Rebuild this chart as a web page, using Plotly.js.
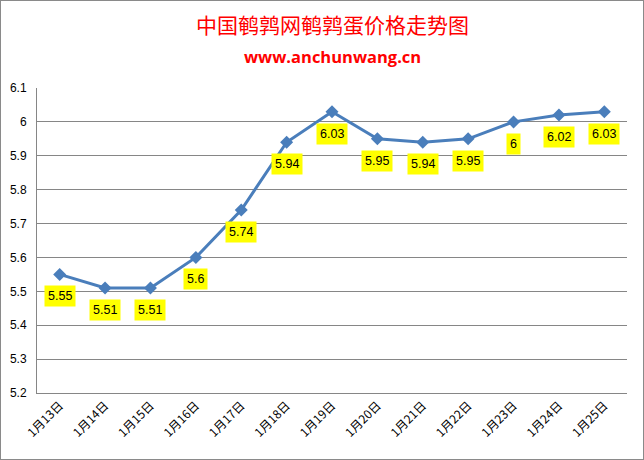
<!DOCTYPE html>
<html>
<head>
<meta charset="utf-8">
<script src="https://cdn.plot.ly/plotly-3.0.1.min.js"></script>
<style>
  body { margin: 0; background: #fff; }
  #chart { width: 642px; height: 458px; border: 1px solid #8a8a8a; }
</style>
</head>
<body>
<div id="chart"></div>
<script>
const dates = ["1月13日", "1月14日", "1月15日", "1月16日", "1月17日", "1月18日", "1月19日",
  "1月20日", "1月21日", "1月22日", "1月23日", "1月24日", "1月25日"];
const prices = [5.55, 5.51, 5.51, 5.6, 5.74, 5.94, 6.03, 5.95, 5.94, 5.95, 6, 6.02, 6.03];
const titleText = "中国鹌鹑网鹌鹑蛋价格走势图";
const siteText = "www.anchunwang.cn";

const blue = "#4a7ebb";

const trace = {
  x: dates,
  y: prices,
  type: "scatter",
  mode: "lines+markers",
  line: { color: blue, width: 3 },
  marker: { symbol: "diamond", size: 10, color: blue },
  showlegend: false,
  hoverinfo: "x+y",
};

// yellow value labels under each point
const labels = dates.map((d, i) => ({
  x: d,
  y: prices[i],
  xref: "x",
  yref: "y",
  text: String(prices[i]),
  showarrow: false,
  yshift: -22,
  bgcolor: "#ffff00",
  borderpad: 3,
  font: { family: "Liberation Sans, Arial, sans-serif", size: 12.5, color: "#000" },
}));

const layout = {
  width: 642,
  height: 458,
  margin: { l: 36, r: 16, t: 87, b: 66 },
  paper_bgcolor: "#ffffff",
  plot_bgcolor: "#ffffff",
  xaxis: {
    type: "category",
    range: [-0.5, dates.length - 0.5],
    tickangle: -45,
    showgrid: false,
    showline: true,
    linecolor: "#868686",
    linewidth: 1,
    ticks: "",
    tickfont: { family: "Noto Sans CJK SC, sans-serif", size: 12, color: "#000" },
    fixedrange: true,
  },
  yaxis: {
    range: [5.2, 6.1],
    dtick: 0.1,
    tick0: 5.2,
    showgrid: true,
    gridcolor: "#868686",
    gridwidth: 1,
    showline: true,
    linecolor: "#868686",
    linewidth: 1,
    zeroline: false,
    ticks: "",
    ticklabelstandoff: 7,
    tickfont: { family: "Liberation Sans, Arial, sans-serif", size: 12, color: "#000" },
    fixedrange: true,
  },
  annotations: [
    {
      text: titleText,
      xref: "paper", yref: "paper",
      x: 0.5, y: 1, yshift: 64,
      xanchor: "center", yanchor: "middle",
      showarrow: false,
      font: { family: "Noto Sans CJK SC, sans-serif", size: 21, color: "#ff0000" },
    },
    {
      text: "<b>" + siteText + "</b>",
      xref: "paper", yref: "paper",
      x: 0.5, y: 1, yshift: 32,
      xanchor: "center", yanchor: "middle",
      showarrow: false,
      font: { family: "Open Sans, sans-serif", size: 16.5, color: "#ff0000" },
    },
  ].concat(labels),
};

Plotly.newPlot("chart", [trace], layout, { displayModeBar: false, staticPlot: true });
</script>
</body>
</html>
